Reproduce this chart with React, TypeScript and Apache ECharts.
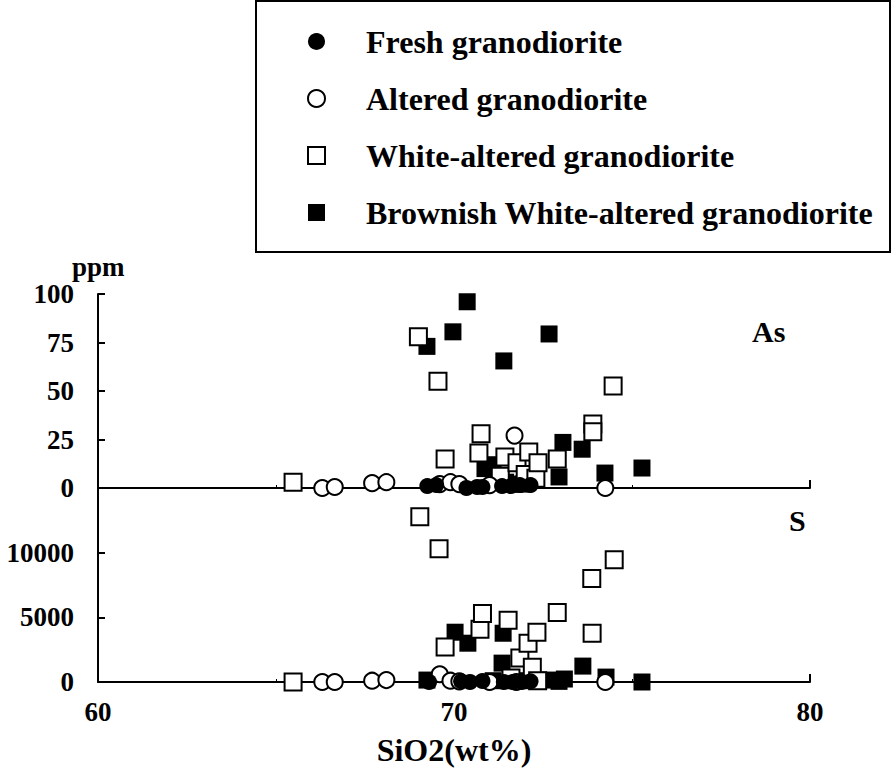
import React, { useEffect, useRef } from "react";
import * as echarts from "echarts";

// SiO2 (wt%) vs As (ppm) – upper panel
const freshAs: number[][] = [[69.25, 1], [69.5, 1.5], [70.35, 0], [70.65, 0.5], [70.8, 0.5], [71.35, 1], [71.6, 1], [71.85, 1.5], [72.15, 1.5]];
const alteredAs: number[][] = [[66.3, 0], [66.65, 0.5], [67.7, 2.5], [68.1, 3], [69.6, 2], [69.9, 3], [70.15, 2], [71.0, 1.5], [71.7, 27], [74.25, 0]];
const whiteAs: number[][] = [[65.48, 3], [69.0, 78], [69.55, 55], [69.75, 15], [70.7, 18], [70.76, 28], [71.3, 6], [71.43, 16], [71.77, 13], [72.0, 7], [72.1, 18.5], [72.3, 5], [72.36, 13], [72.9, 15], [73.9, 33], [73.9, 29], [74.47, 52.6]];
const brownAs: number[][] = [[69.24, 73], [69.97, 80.5], [70.37, 96], [70.87, 10], [71.1, 12], [71.4, 65.5], [71.45, 3], [71.7, 2], [71.95, 2], [72.67, 79.4], [72.95, 5.7], [73.06, 23.5], [73.6, 20], [74.24, 7.7], [75.28, 10.3]];

// SiO2 (wt%) vs S (ppm) – lower panel
const freshS: number[][] = [[69.3, 0], [70.2, 50], [70.45, 0], [70.8, 80], [71.4, 0], [71.65, 0], [71.9, 0], [72.15, 50]];
const alteredS: number[][] = [[66.3, 0], [66.65, 0], [67.7, 100], [68.1, 150], [69.6, 600], [69.9, 100], [70.15, 50], [71.0, 0], [71.75, 0], [74.25, 0]];
const whiteS: number[][] = [[65.48, 0], [69.04, 12770], [69.58, 10300], [69.75, 2700], [70.73, 4080], [70.8, 5300], [71.52, 4770], [71.6, 300], [71.85, 1850], [72.08, 3000], [72.2, 1150], [72.33, 3850], [72.35, 100], [72.9, 5380], [73.87, 8000], [73.88, 3770], [74.5, 9460]];
const brownS: number[][] = [[69.24, 150], [70.03, 3850], [70.39, 3000], [71.1, 100], [71.35, 1460], [71.38, 3770], [71.6, 100], [71.9, 100], [72.7, 150], [72.95, 50], [73.1, 230], [73.62, 1230], [74.27, 380], [75.28, 0]];

const seriesNames = ["Fresh granodiorite", "Altered granodiorite", "White-altered granodiorite", "Brownish White-altered granodiorite"];
const xTicks = { min: 60, max: 80, interval: 10 };
const asTicks = { min: 0, max: 100, interval: 25 };
const sTicks = { min: 0, max: 15000, interval: 5000 };

const FONT = "'Liberation Serif', 'Times New Roman', serif";

export default function App() {
  const ref = useRef<HTMLDivElement>(null);
  useEffect(() => {
    if (!ref.current) return;
    const chart = echarts.init(ref.current, null, { renderer: "svg" });
    const labelStyle = { fontFamily: FONT, fontWeight: "bold" as const, fontSize: 27, color: "#000" };
    const axisLine = { show: true, lineStyle: { color: "#000", width: 2 } };
    const axisTick = { show: true, inside: true, length: 8, lineStyle: { color: "#000", width: 2 } };
    const xCommon = (gridIndex: number, showLabel: boolean) => ({
      type: "value" as const,
      gridIndex,
      ...xTicks,
      axisLine,
      axisTick,
      minorTick: { show: true, splitNumber: 2, length: 3, lineStyle: { color: "#000", width: 1 } },
      splitLine: { show: false },
      axisLabel: { show: showLabel, margin: 16, ...labelStyle },
      ...(showLabel
        ? { name: "SiO2(wt%)", nameLocation: "middle" as const, nameGap: 52, nameTextStyle: { ...labelStyle, fontSize: 32 } }
        : {}),
    });
    const yCommon = (gridIndex: number, t: { min: number; max: number; interval: number }, showMax: boolean) => ({
      type: "value" as const,
      gridIndex,
      ...t,
      axisLine,
      axisTick: { ...axisTick, length: 7 },
      splitLine: { show: false },
      axisLabel: { margin: 24, showMaxLabel: showMax, formatter: (v: number) => String(v), ...labelStyle },
    });
    const openStyle = { color: "#fff", borderColor: "#000", borderWidth: 2, opacity: 1 };
    const filledStyle = { color: "#000", borderColor: "#000", borderWidth: 0, opacity: 1 };
    const mk = (name: string, data: number[][], idx: number, symbol: string, style: any, size: number, z: number) => ({
      type: "scatter" as const,
      name,
      xAxisIndex: idx,
      yAxisIndex: idx,
      data,
      symbol,
      symbolSize: size,
      itemStyle: style,
      z,
    });
    chart.setOption({
      animation: false,
      backgroundColor: "#fff",
      grid: [
        { left: 98, top: 294, width: 712, height: 194 },
        { left: 98, top: 488, width: 712, height: 194 },
      ],
      xAxis: [xCommon(0, false), xCommon(1, true)],
      yAxis: [yCommon(0, asTicks, true), yCommon(1, sTicks, false)],
      legend: {
        data: seriesNames,
        orient: "vertical",
        left: 307,
        top: 24,
        padding: 0,
        itemWidth: 17,
        itemHeight: 17,
        itemGap: 22,
        selectedMode: false,
        textStyle: { fontFamily: FONT, fontWeight: "bold", fontSize: 32, color: "#000", lineHeight: 35, padding: [0, 0, 0, 36] },
      },
      graphic: [
        { type: "rect", shape: { x: 256, y: 1, width: 634, height: 251 }, style: { fill: "none", stroke: "#000", lineWidth: 2 } },
        { type: "text", left: 72, top: 253, style: { text: "ppm", font: `bold 27px ${FONT}`, fill: "#000" } },
        { type: "text", left: 752, top: 316, style: { text: "As", font: `bold 30px ${FONT}`, fill: "#000" } },
        { type: "text", left: 789, top: 505, style: { text: "S", font: `bold 30px ${FONT}`, fill: "#000" } },
      ],
      series: [
        mk(seriesNames[3], brownAs, 0, "rect", filledStyle, 17, 2),
        mk(seriesNames[2], whiteAs, 0, "rect", openStyle, 17, 3),
        mk(seriesNames[1], alteredAs, 0, "circle", openStyle, 16, 4),
        mk(seriesNames[0], freshAs, 0, "circle", filledStyle, 16, 5),
        mk(seriesNames[3], brownS, 1, "rect", filledStyle, 17, 2),
        mk(seriesNames[2], whiteS, 1, "rect", openStyle, 17, 3),
        mk(seriesNames[1], alteredS, 1, "circle", openStyle, 16, 4),
        mk(seriesNames[0], freshS, 1, "circle", filledStyle, 16, 5),
      ],
    });
    return () => chart.dispose();
  }, []);
  return <div ref={ref} style={{ position: "absolute", left: 0, top: 0, width: 895, height: 774 }} />;
}
